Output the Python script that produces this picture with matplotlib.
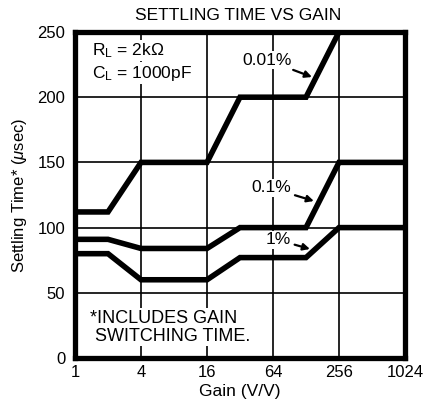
import matplotlib
matplotlib.use("Agg")
import matplotlib.pyplot as plt
import numpy as np

plt.rcParams['font.family'] = ['Liberation Sans', 'DejaVu Sans']
plt.rcParams['mathtext.fontset'] = 'custom'
plt.rcParams['mathtext.rm'] = 'Liberation Sans'
plt.rcParams['mathtext.it'] = 'Liberation Sans:italic'

gain = [1, 2, 4, 16, 32, 128, 256, 1024]
st_001 = [112, 112, 150, 150, 200, 200, 250, 250]
st_01 = [91, 91, 84, 84, 100, 100, 150, 150]
st_1 = [80, 80, 60, 60, 77, 77, 100, 100]

xticks = [1, 4, 16, 64, 256, 1024]
yticks = [0, 50, 100, 150, 200, 250]

fig = plt.figure(figsize=(4.35, 4.05), dpi=100)
ax = fig.add_axes([75/435, 47/405, 330/435, 326/405])

ax.set_xscale('log', base=2)
ax.set_xlim(1, 1024)
ax.set_ylim(0, 250)
ax.set_xticks(xticks)
ax.set_xticklabels([str(t) for t in xticks])
ax.set_yticks(yticks)
ax.set_yticklabels([str(t) for t in yticks])
ax.minorticks_off()
ax.tick_params(length=0, labelsize=12, colors='black')
ax.tick_params(axis='x', pad=5)
ax.tick_params(axis='y', pad=7)
ax.grid(True, color='black', linewidth=1.2)
ax.set_axisbelow(True)
for s in ax.spines.values():
    s.set_linewidth(3.8)

for y in (st_001, st_01, st_1):
    ax.plot(gain, y, color='black', linewidth=4, solid_joinstyle='miter', zorder=3)

fig.text(238/435, 1 - 15/405, 'SETTLING TIME VS GAIN', fontsize=12.5, ha='center', va='center')
ax.set_xlabel('Gain (V/V)', fontsize=12.5, labelpad=3)
ax.set_ylabel(r'Settling Time* ($\mu$sec)', fontsize=12, labelpad=6)

bb = dict(facecolor='white', edgecolor='none', pad=1)
ax.text(1.42, 236, r'R$_\mathrm{L}$ = 2k$\Omega$', fontsize=12.5, va='center', ha='left', bbox=bb, zorder=4)
ax.text(1.42, 218.5, r'C$_\mathrm{L}$ = 1000pF', fontsize=12.5, va='center', ha='left', bbox=bb, zorder=4)
ax.text(1.38, 23.5, '*INCLUDES GAIN\n SWITCHING TIME.', fontsize=13, va='center', ha='left',
        linespacing=1.1, bbox=bb, zorder=4)

ap = dict(arrowstyle='-|>', color='black', lw=1.6, mutation_scale=10, shrinkA=2, shrinkB=0)
ax.annotate('0.01%', xy=(145, 215.5), xytext=(56.4, 228.5), fontsize=12.5, ha='center', va='center',
            arrowprops=ap, bbox=bb, zorder=4)
ax.annotate('0.1%', xy=(151, 120.4), xytext=(61.4, 130.4), fontsize=12.5, ha='center', va='center',
            arrowprops=ap, bbox=bb, zorder=4)
ax.annotate('1%', xy=(139, 83.6), xytext=(71, 90.5), fontsize=12.5, ha='center', va='center',
            arrowprops=ap, bbox=bb, zorder=4)

fig.savefig('out.png', dpi=100)
